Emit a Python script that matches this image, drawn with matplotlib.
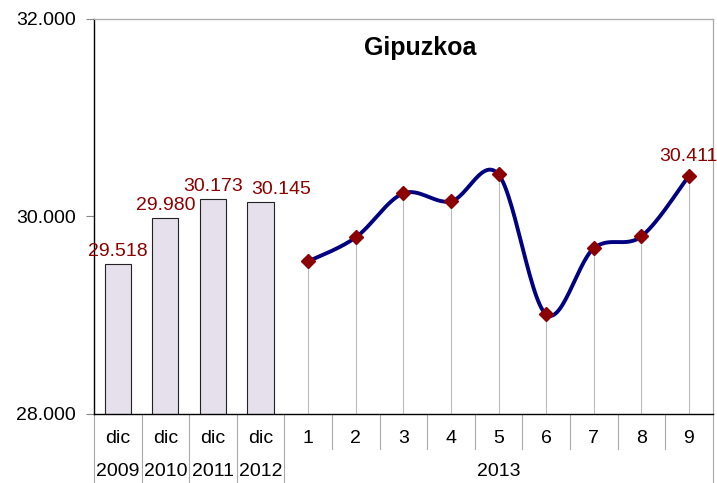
import numpy as np
import matplotlib.pyplot as plt
from matplotlib.transforms import blended_transform_factory

plt.rcParams['font.family'] = ['Liberation Sans', 'DejaVu Sans']

# values
bar_labels = ["dic", "dic", "dic", "dic"]
bar_years = ["2009", "2010", "2011", "2012"]
bar_values = [29518, 29980, 30173, 30145]

month_labels = ["1", "2", "3", "4", "5", "6", "7", "8", "9"]
month_year = "2013"
month_values = [29544, 29787, 30233, 30152, 30425, 29008, 29676, 29797, 30411]

red = "#8B0000"
navy = "#000080"

fig = plt.figure(figsize=(7.17, 4.83), dpi=100)
ax = fig.add_axes([0.131, 0.143, 0.863, 0.818])

nb = len(bar_values)
xb = np.arange(nb)
xm = np.arange(nb, nb + len(month_values))

ax.bar(xb, bar_values, width=0.55, color="#E6E0EC", edgecolor="#222222",
       linewidth=0.8, zorder=2)
# the last bar label sits a bit to the right so it does not run into 30.173
label_shift = [0, 0, 0, 0.44]
for x, v, dx in zip(xb, bar_values, label_shift):
    ax.text(x + dx, v + 40, f"{v/1000:.3f}", ha="center", va="bottom",
            color=red, fontsize=14)

# drop lines from each point to the axis
ax.vlines(xm, 28000, month_values, color="#BBBBBB", linewidth=0.8, zorder=1)


# smoothed line (Excel-style Bezier through the points)
def smooth(xs, ys, n=30):
    xs = np.asarray(xs, float)
    ys = np.asarray(ys, float)
    px = np.concatenate([[xs[0]], xs, [xs[-1]]])
    py = np.concatenate([[ys[0]], ys, [ys[-1]]])
    ox, oy = [], []
    t = np.linspace(0, 1, n)
    for i in range(1, len(px) - 2):
        p0, p1, p2, p3 = px[i-1:i+3]
        q0, q1, q2, q3 = py[i-1:i+3]
        c1x, c1y = p1 + (p2 - p0) / 6, q1 + (q2 - q0) / 6
        c2x, c2y = p2 - (p3 - p1) / 6, q2 - (q3 - q1) / 6
        bx = (1-t)**3*p1 + 3*(1-t)**2*t*c1x + 3*(1-t)*t**2*c2x + t**3*p2
        by = (1-t)**3*q1 + 3*(1-t)**2*t*c1y + 3*(1-t)*t**2*c2y + t**3*q2
        ox.extend(bx)
        oy.extend(by)
    return np.array(ox), np.array(oy)


sx, sy = smooth(xm, month_values)
ax.plot(sx, sy, color=navy, linewidth=2.8, zorder=3, solid_capstyle="round")
ax.plot(xm, month_values, linestyle="none", marker="D", markersize=7,
        color=red, zorder=4)
ax.text(xm[-1], month_values[-1] + 110, f"{month_values[-1]/1000:.3f}",
        ha="center", va="bottom", color=red, fontsize=14)

ax.set_xlim(-0.5, nb + len(month_values) - 0.5)
ax.set_ylim(28000, 32000)
ax.set_yticks([28000, 30000, 32000])
ax.set_yticklabels(["28.000", "30.000", "32.000"], fontsize=14)
ax.tick_params(axis="y", length=6, width=0.8, color="#888888", pad=7)

ax.set_xticks([])
for s in ["top", "right"]:
    ax.spines[s].set_color("#AAAAAA")
    ax.spines[s].set_linewidth(0.9)
for s in ["left", "bottom"]:
    ax.spines[s].set_color("black")
    ax.spines[s].set_linewidth(1.0)

# category axis labels and separators
tr = blended_transform_factory(ax.transData, ax.transAxes)
for x, lab in zip(np.concatenate([xb, xm]), bar_labels + month_labels):
    ax.text(x, -0.061, lab, transform=tr, ha="center", va="center", fontsize=14)
for x, yr in zip(xb, bar_years):
    ax.text(x, -0.145, yr, transform=tr, ha="center", va="center", fontsize=14)
ax.text(xm.mean(), -0.145, month_year, transform=tr, ha="center",
        va="center", fontsize=14)

ntot = nb + len(month_values)
for b in np.arange(ntot + 1) - 0.5:
    long = b <= nb - 0.5 or b >= ntot - 0.5
    ax.plot([b, b], [0, -0.18 if long else -0.09], transform=tr,
            color="#AAAAAA", linewidth=0.8, clip_on=False)

ax.text(0.528, 0.927, "Gipuzkoa", transform=ax.transAxes, ha="center",
        va="center", fontsize=18, fontweight="bold")

fig.savefig("out.png", dpi=100)
